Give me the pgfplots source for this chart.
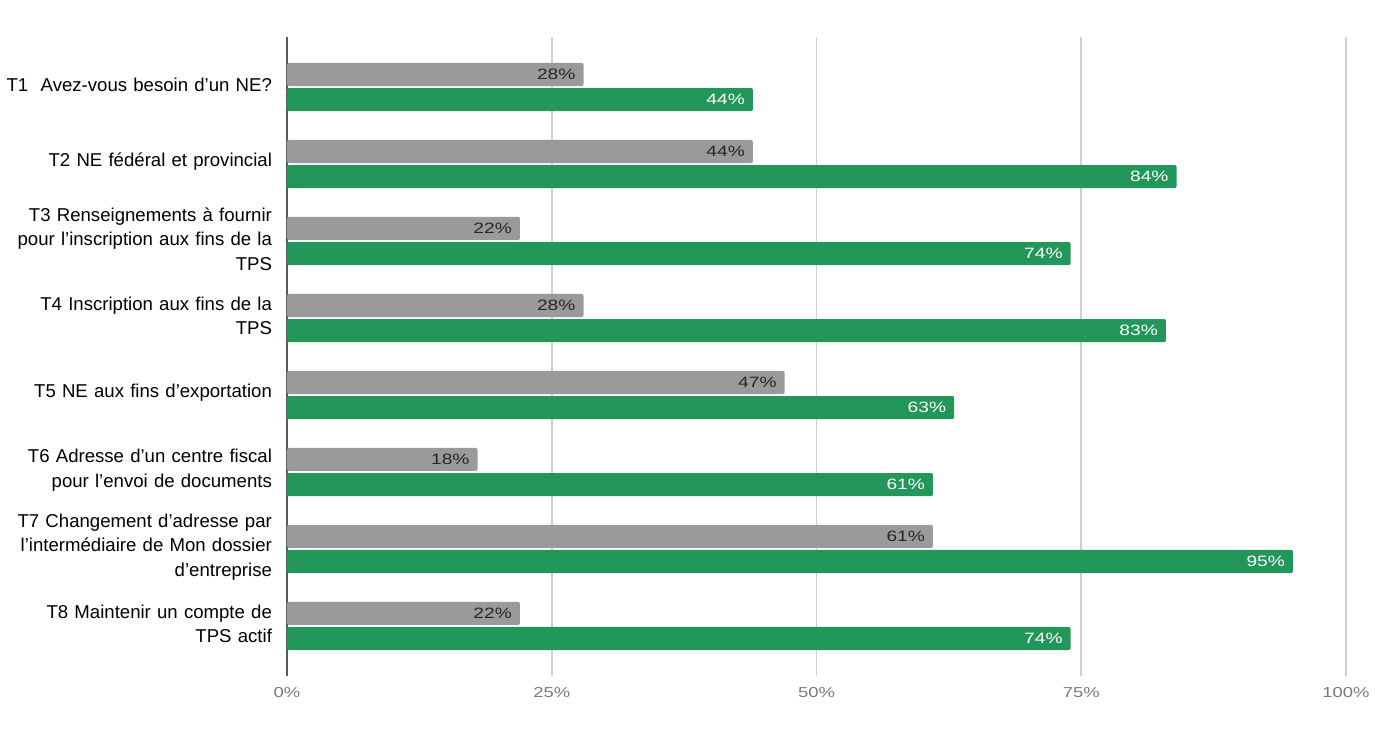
\documentclass[border=0pt]{standalone}
\usepackage{fontspec}
\setmainfont{Liberation Sans}
\newfontfamily\numfont[FakeStretch=1.28]{Liberation Sans}
\usepackage{pgfplots}
\pgfplotsset{compat=1.18}
\definecolor{bargray}{HTML}{9A9A9A}
\definecolor{bargreen}{HTML}{23965A}
\definecolor{gridgray}{HTML}{D0D0D0}
\definecolor{axisgray}{HTML}{5A5A5A}
\definecolor{ticktext}{HTML}{7A7A7A}
\begin{document}
\begin{tikzpicture}
\useasboundingbox (0,0) rectangle (687.5pt,370.5pt);
\begin{axis}[
  at={(143.5pt,32.5pt)}, anchor=south west,
  scale only axis, width=529.5pt, height=319.5pt,
  xbar, y dir=reverse,
  /pgf/number format/assume math mode=true,
  xmin=0, xmax=100, ymin=-0.65, ymax=7.65,
  xtick={0,25,50,75,100},
  xticklabels={0\%,25\%,50\%,75\%,100\%},
  x tick label style={font=\numfont\fontsize{7.2}{9}\selectfont, text=ticktext, yshift=-2pt},
  ytick={0,...,7},
  yticklabels={
    {T1\ \ Avez-vous besoin d’un NE?},
    {T2 NE fédéral et provincial},
    {T3 Renseignements à fournir\\pour l’inscription aux fins de la\\TPS},
    {T4 Inscription aux fins de la\\TPS},
    {T5 NE aux fins d’exportation},
    {T6 Adresse d’un centre fiscal\\pour l’envoi de documents},
    {T7 Changement d’adresse par\\l’intermédiaire de Mon dossier\\d’entreprise},
    {T8 Maintenir un compte de\\TPS actif}},
  y tick label style={font=\fontsize{9.3}{12.25}\selectfont, align=right, text width=140pt, xshift=-4pt, yshift=1pt},
  major tick length=0pt,
  axis x line*=bottom, axis y line*=left,
  x axis line style={draw=none},
  y axis line style={draw=axisgray, line width=1pt},
  xmajorgrids, grid style={gridgray, line width=0.8pt},
  bar width=0.3,
  nodes near coords={\pgfmathprintnumber{\pgfplotspointmeta}\%},
  point meta=explicit,
  every node near coord/.append style={anchor=east, font=\numfont\fontsize{7.5}{9}\selectfont, xshift=-0.5pt},
  clip=false,
]
\addplot+[xbar, bar shift=-0.163, fill=bargray, draw=none, rounded corners=1pt,
  every node near coord/.append style={text=black!85}]
  coordinates {(28,0)[28] (44,1)[44] (22,2)[22] (28,3)[28] (47,4)[47] (18,5)[18] (61,6)[61] (22,7)[22]};
\addplot+[xbar, bar shift=0.163, fill=bargreen, draw=none, rounded corners=1pt,
  every node near coord/.append style={text=white}]
  coordinates {(44,0)[44] (84,1)[84] (74,2)[74] (83,3)[83] (63,4)[63] (61,5)[61] (95,6)[95] (74,7)[74]};
\end{axis}
\end{tikzpicture}
\end{document}
